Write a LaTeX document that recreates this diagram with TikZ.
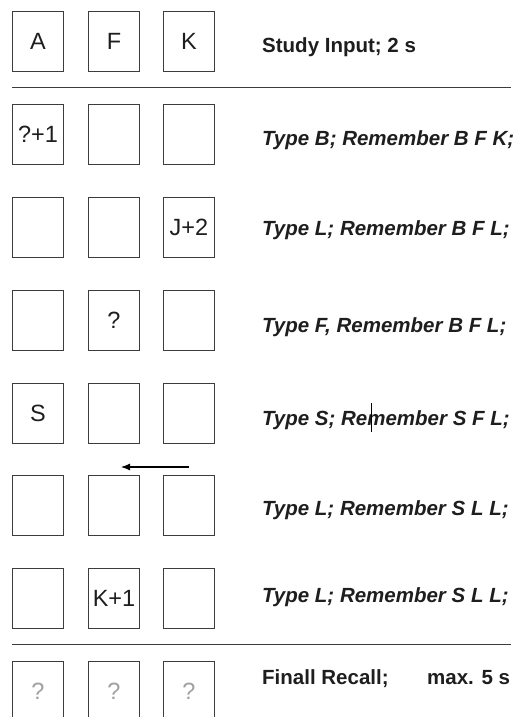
\documentclass[tikz,border=0pt]{standalone}
\usepackage{fontspec}
\setmainfont{Liberation Sans}
\usetikzlibrary{arrows.meta}
\definecolor{ink}{HTML}{1E1E1E}
\definecolor{boxline}{HTML}{3C3C3C}
\definecolor{faint}{HTML}{A0A0A0}
\begin{document}
\begin{tikzpicture}[x=1pt,y=-1pt,
  cell/.style={draw=boxline,line width=1pt,minimum width=51pt,minimum height=60pt,
    inner sep=0pt,anchor=north west,font=\fontsize{23.5}{23.5}\selectfont,text=ink,
    text height=16.8pt,text depth=0pt},
  fcell/.style={cell,text=faint},
  lab/.style={anchor=base west,inner sep=0pt,text=ink,font=\fontsize{20.5}{20.5}\selectfont\bfseries},
  ilab/.style={lab,font=\fontsize{20.5}{20.5}\selectfont\bfseries\itshape},
  rule/.style={draw=boxline,line width=1pt}]
\useasboundingbox (0,0) rectangle (522,717);
\fill[white] (0,0) rectangle (522,717);
\begin{scope}
\clip (0,0) rectangle (522,717);
% row 1
\node[cell] (a1) at (12,11) {A};
\node[cell] (b1) at (88,11) {F};
\node[cell] (c1) at (163,11) {K};
\node[lab] (t1) at (262,52.3) {Study Input; 2 s};
\coordinate (r1a) at (12,87);
\coordinate (r1b) at (511,87);
\draw[rule] (r1a) -- (r1b);
% row 2
\node[cell] (a2) at (12,104) {?+1};
\node[cell] (b2) at (88,104) {};
\node[cell] (c2) at (163,104) {};
\node[ilab] (t2) at (262,145.3) {Type B; Remember B F K;};
% row 3
\node[cell] (a3) at (12,197) {};
\node[cell] (b3) at (88,197) {};
\node[cell] (c3) at (163,197) {J+2};
\node[ilab] (t3) at (262,235.3) {Type L; Remember B F L;};
% row 4
\node[cell] (a4) at (12,290) {};
\node[cell] (b4) at (88,290) {?};
\node[cell] (c4) at (163,290) {};
\node[ilab] (t4) at (262,332.3) {Type F, Remember B F L;};
% row 5
\node[cell] (a5) at (12,383) {S};
\node[cell] (b5) at (88,383) {};
\node[cell] (c5) at (163,383) {};
\node[ilab] (t5) at (262,425.3) {Type S; Remember S F L;};
\coordinate (cur1) at (371,403);
\coordinate (cur2) at (371,432);
\draw[line width=0.8pt,black] (cur1) -- (cur2);
% arrow
\coordinate (ar1) at (189,467);
\coordinate (ar2) at (121,467);
\draw[line width=1.1pt,black,-{Latex[length=9pt,width=7pt]}] (ar1) -- (ar2);
% row 6
\node[cell] (a6) at (12,475) {};
\node[cell] (b6) at (88,475) {};
\node[cell] (c6) at (163,475) {};
\node[ilab] (t6) at (262,515.3) {Type L; Remember S L L;};
% row 7
\node[cell] (a7) at (12,568) {};
\node[cell] (b7) at (88,568) {K+1};
\node[cell] (c7) at (163,568) {};
\node[ilab] (t7) at (262,602.3) {Type L; Remember S L L;};
\coordinate (r2a) at (12,644);
\coordinate (r2b) at (511,644);
\draw[rule] (r2a) -- (r2b);
% row 8
\node[fcell] (a8) at (12,661) {?};
\node[fcell] (b8) at (88,661) {?};
\node[fcell] (c8) at (163,661) {?};
\node[lab] (t8) at (262,684.3) {Finall Recall;};
\node[lab] (t9) at (427,684.3) {max. 5 s};
\end{scope}
\end{tikzpicture}
\end{document}
